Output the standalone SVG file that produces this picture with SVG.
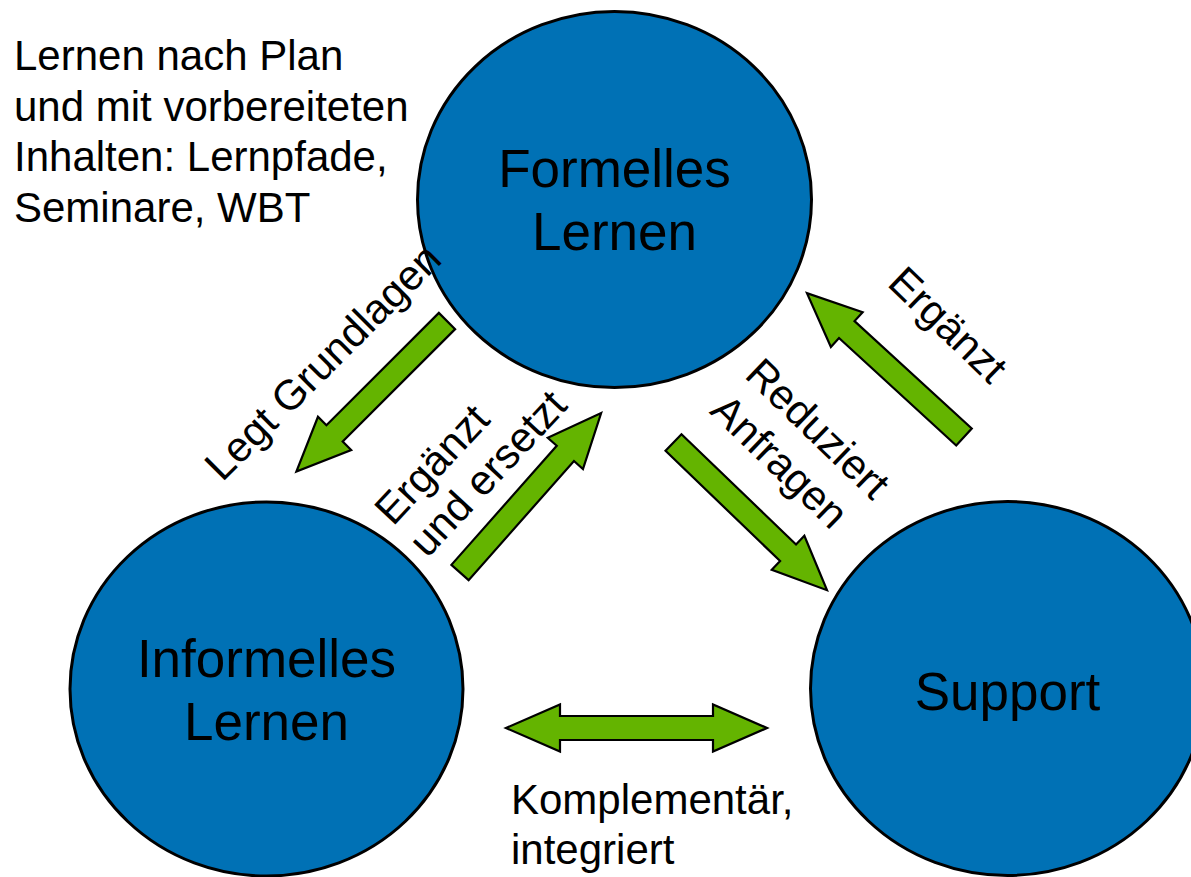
<svg xmlns="http://www.w3.org/2000/svg" xmlns:xlink="http://www.w3.org/1999/xlink" width="1191" height="877" viewBox="0 0 1191 877">
<style>
.node{fill:#0071B5;stroke:#000;stroke-width:3}
.arrow{fill:#64B400;stroke:#000;stroke-width:2.2;stroke-linejoin:miter}
.big{font-family:"Liberation Sans",Arial,sans-serif;font-size:53px;fill:#000;text-anchor:middle}
.lbl{font-family:"Liberation Sans",Arial,sans-serif;font-size:42px;fill:#000}
</style>
<defs>
<path id="arr" d="M0,-11.5 L159,-11.5 L159,-23.5 L213,0 L159,23.5 L159,11.5 L0,11.5 Z"/>
</defs>
<rect width="1191" height="877" fill="#fff"/>
<g id="formelles">
<ellipse class="node" cx="614.5" cy="199.5" rx="197" ry="188"/>
<text class="big" x="614.5" y="187">Formelles</text>
<text class="big" x="614.5" y="250">Lernen</text>
</g>
<g id="informelles">
<ellipse class="node" cx="266.5" cy="689" rx="196.5" ry="187"/>
<text class="big" x="266.5" y="677">Informelles</text>
<text class="big" x="266.5" y="740">Lernen</text>
</g>
<g id="support">
<ellipse class="node" cx="1007.5" cy="688.5" rx="197" ry="187"/>
<text class="big" x="1007.5" y="710">Support</text>
</g>
<g id="note">
<text class="lbl" x="14" y="70">Lernen nach Plan</text>
<text class="lbl" x="14" y="120.5">und mit vorbereiteten</text>
<text class="lbl" x="14" y="171">Inhalten: Lernpfade,</text>
<text class="lbl" x="14" y="221.5">Seminare, WBT</text>
</g>
<g id="connectors">
<use xlink:href="#arr" class="arrow" transform="translate(447,321) rotate(135)"/>
<use xlink:href="#arr" class="arrow" transform="translate(460,572.5) rotate(-48.5)"/>
<use xlink:href="#arr" class="arrow" transform="translate(673.5,442.5) rotate(43.9)"/>
<use xlink:href="#arr" class="arrow" transform="translate(964,437) rotate(-137.5)"/>
<path class="arrow" d="M506,728 L560,704.5 L560,716 L713,716 L713,704.5 L767,728 L713,751.5 L713,740 L560,740 L560,751.5 Z"/>
<text class="lbl" text-anchor="middle" transform="translate(333,372) rotate(-45)">Legt Grundlagen</text>
<g transform="translate(393,527) rotate(-47)">
<text class="lbl" x="0" y="0">Ergänzt</text>
<text class="lbl" x="0" y="47">und ersetzt</text>
</g>
<g transform="translate(808,439) rotate(44)">
<text class="lbl" x="-90" y="0">Reduziert</text>
<text class="lbl" x="-90" y="50">Anfragen</text>
</g>
<text class="lbl" text-anchor="middle" transform="translate(938,335) rotate(44)">Ergänzt</text>
<text class="lbl" x="511" y="814">Komplementär,</text>
<text class="lbl" x="511" y="864">integriert</text>
</g>
</svg>
